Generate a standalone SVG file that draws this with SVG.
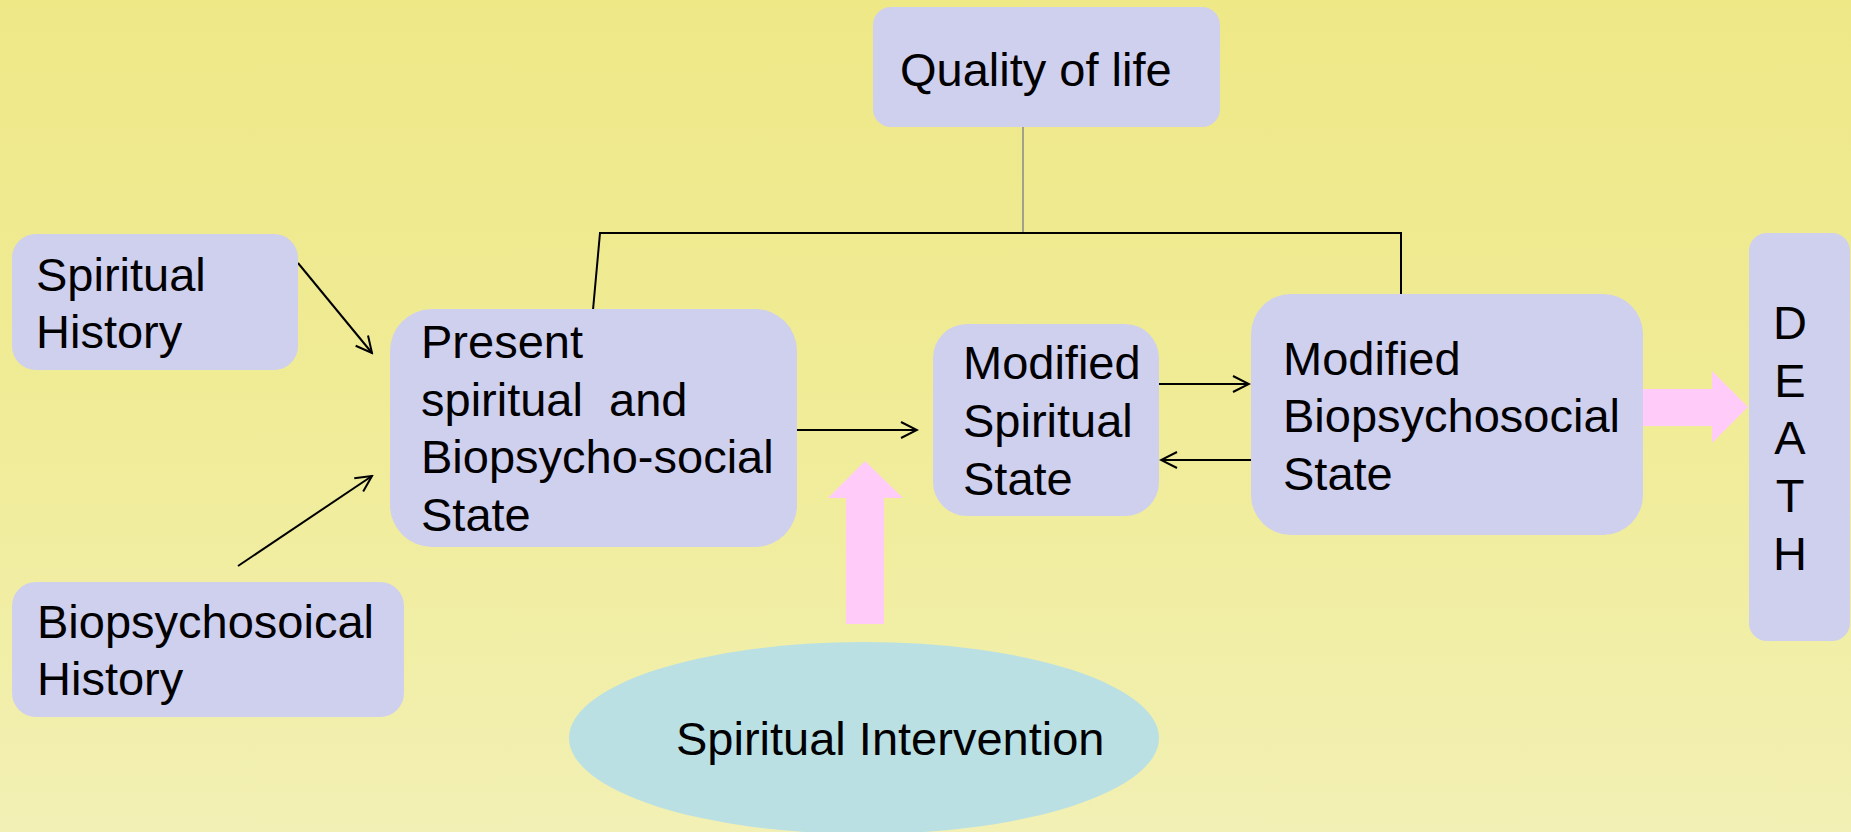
<svg xmlns="http://www.w3.org/2000/svg" width="1851" height="832" viewBox="0 0 1851 832">
<defs>
<linearGradient id="bg" x1="0" y1="0" x2="0" y2="1">
<stop offset="0" stop-color="#EEE887"/>
<stop offset="0.5" stop-color="#F0EC97"/>
<stop offset="1" stop-color="#F2F0B4"/>
</linearGradient>
<marker id="ah" viewBox="0 0 20 20" refX="18" refY="10" markerWidth="20" markerHeight="20" markerUnits="userSpaceOnUse" orient="auto">
<path d="M2,2 L18,10 L2,18" fill="none" stroke="#000" stroke-width="2"/>
</marker>
<style>
.box{fill:#CFCFEE;}
.t{font-family:"Liberation Sans",Arial,sans-serif;font-size:47px;fill:#000;}
.c{stroke:#000;stroke-width:2;fill:none;}
.pink{fill:#FFCCFA;}
</style>
</defs>
<rect x="0" y="0" width="1851" height="832" fill="url(#bg)"/>
<g id="connectors">
<line x1="1023" y1="126" x2="1023" y2="233" stroke="#888" stroke-width="1.5"/>
<polyline class="c" points="593,310 600,233 1401,233 1401,294" stroke-width="2.5"/>
<line class="c" x1="298" y1="263" x2="372" y2="353" marker-end="url(#ah)"/>
<line class="c" x1="238" y1="566" x2="372" y2="476" marker-end="url(#ah)"/>
<line class="c" x1="797" y1="430" x2="917" y2="430" marker-end="url(#ah)"/>
<line class="c" x1="1159" y1="384" x2="1249" y2="384" marker-end="url(#ah)"/>
<line class="c" x1="1251" y1="460" x2="1161" y2="460" marker-end="url(#ah)"/>
<polygon class="pink" points="846,624 884,624 884,498 903,498 865,461 828,498 846,498"/>
<polygon class="pink" points="1643,389 1712,389 1712,371 1748,407 1712,443 1712,426 1643,426"/>
</g>
<g id="quality">
<rect class="box" x="873" y="7" width="347" height="120" rx="18"/>
<text class="t" x="900" y="86">Quality of life</text>
</g>
<g id="spiritual-history">
<rect class="box" x="12" y="234" width="286" height="136" rx="24"/>
<text class="t" x="36" y="291">Spiritual</text>
<text class="t" x="36" y="348">History</text>
</g>
<g id="biopsychosoical-history">
<rect class="box" x="12" y="582" width="392" height="135" rx="24"/>
<text class="t" x="37" y="638">Biopsychosoical</text>
<text class="t" x="37" y="695">History</text>
</g>
<g id="present-state">
<rect class="box" x="390" y="309" width="407" height="238" rx="42"/>
<text class="t" x="421" y="358">Present</text>
<text class="t" x="421" y="416" xml:space="preserve">spiritual  and</text>
<text class="t" x="421" y="473">Biopsycho-social</text>
<text class="t" x="421" y="531">State</text>
</g>
<g id="modified-spiritual">
<rect class="box" x="933" y="324" width="226" height="192" rx="34"/>
<text class="t" x="963" y="379">Modified</text>
<text class="t" x="963" y="437">Spiritual</text>
<text class="t" x="963" y="495">State</text>
</g>
<g id="modified-biopsychosocial">
<rect class="box" x="1251" y="294" width="392" height="241" rx="40"/>
<text class="t" x="1283" y="375">Modified</text>
<text class="t" x="1283" y="432">Biopsychosocial</text>
<text class="t" x="1283" y="490">State</text>
</g>
<g id="death">
<rect class="box" x="1749" y="233" width="101" height="408" rx="18"/>
<text class="t" x="1790" y="339" text-anchor="middle">D</text>
<text class="t" x="1790" y="397" text-anchor="middle">E</text>
<text class="t" x="1790" y="454" text-anchor="middle">A</text>
<text class="t" x="1790" y="512" text-anchor="middle">T</text>
<text class="t" x="1790" y="570" text-anchor="middle">H</text>
</g>
<g id="spiritual-intervention">
<ellipse cx="864" cy="738" rx="295" ry="96" fill="#BAE0E4"/>
<text class="t" x="676" y="755">Spiritual Intervention</text>
</g>
</svg>
